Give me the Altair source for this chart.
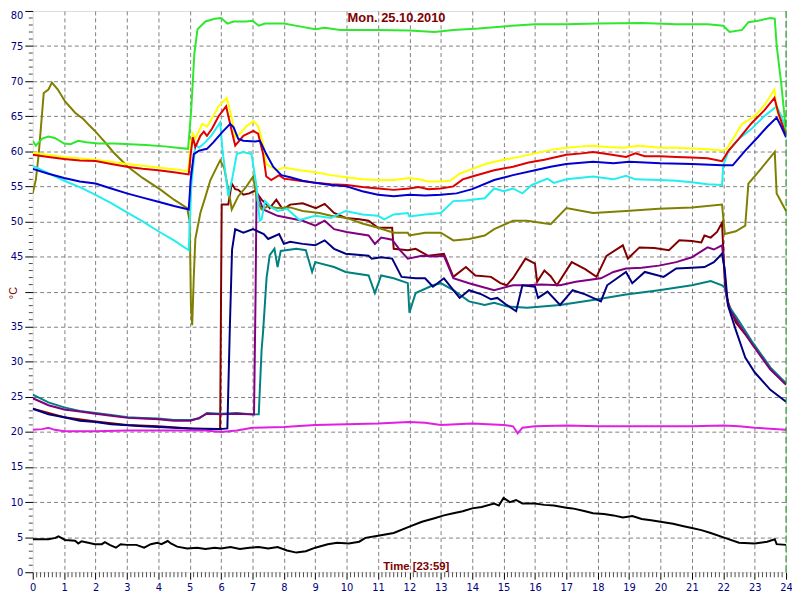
import altair as alt
import pandas as pd

W, H = 761, 567

# ---- data: (hour, °C) ----
green = [(0,61.5),(0.1,60.8),(0.3,61.8),(0.5,62.1),(0.7,61.9),(1.0,61.1),(1.2,61.0),(1.45,61.5),(1.7,61.3),
         (2.1,61.1),(2.6,61.1),(3.1,61.0),(3.6,60.9),(4.2,60.7),(4.6,60.5),(4.95,60.35),(5.05,66),(5.15,74),
         (5.25,77.4),(5.5,78.5),(5.8,78.9),(6.0,79.0),(6.2,78.2),(6.4,78.5),(6.8,78.5),(7.0,78.6),(7.2,77.9),
         (7.4,78.2),(8.0,78.2),(8.5,77.8),(9.0,77.4),(9.3,77.6),(9.8,77.3),(11.0,77.3),(12.0,77.2),(12.8,77.0),
         (13.4,77.3),(14.2,77.5),(15.0,77.8),(16.0,78.1),(17.0,78.1),(18.0,78.2),(19.4,78.3),(20.5,78.1),
         (21.5,78.1),(22.0,77.9),(22.2,77.0),(22.6,77.3),(22.8,78.4),(23.1,78.6),(23.5,79.0),(23.64,78.9),
         (23.7,75.1),(23.85,69.5),(24.0,62.8)]

yellow = [(0,59.8),(1,59.2),(2,58.8),(3,58.2),(4,57.7),(4.95,57.2),(5.05,61.5),(5.1,62.5),(5.18,61.8),
          (5.4,63.9),(5.55,63.5),(5.66,64.3),(5.92,66.4),(6.18,67.6),(6.34,64.8),(6.45,62.0),(6.6,62.5),
          (6.81,63.6),(7.03,64.3),(7.18,63.6),(7.34,61.0),(7.44,58.2),(7.76,57.3),(8.0,57.7),(8.5,57.3),
          (9.0,57.0),(9.5,56.6),(10.0,56.3),(10.5,56.0),(11.0,55.9),(11.5,55.9),(12.0,56.2),(12.3,56.0),
          (12.6,55.7),(13.0,55.7),(13.3,55.8),(13.6,56.8),(14.0,57.5),(14.5,58.3),(15.0,58.8),(15.5,59.2),
          (16.0,59.7),(16.5,60.2),(17.0,60.5),(17.5,60.7),(17.85,60.8),(18.3,60.6),(18.8,60.5),(19.3,60.8),
          (20.0,60.5),(20.5,60.5),(21.0,60.4),(21.5,60.3),(21.96,60.1),(22.1,60.3),(22.6,63.9),(23.0,65.0),
          (23.3,66.5),(23.63,68.8),(23.7,66.0),(23.85,64.0),(24.0,62.5)]

red = [(0,59.5),(0.5,59.2),(1,58.9),(1.5,58.7),(2,58.6),(2.5,58.2),(3,57.8),(3.5,57.5),(4,57.3),(4.5,57.0),
       (4.97,56.7),(5.03,59.5),(5.1,62.0),(5.18,60.6),(5.34,62.2),(5.45,62.8),(5.55,62.2),(5.71,63.2),
       (5.92,65.0),(6.16,66.4),(6.34,62.9),(6.45,60.8),(6.71,62.2),(7.03,62.9),(7.18,62.5),(7.34,59.6),
       (7.44,56.4),(7.6,55.9),(7.85,56.6),(8.0,56.1),(8.5,55.8),(9.0,55.5),(9.5,55.3),(10.0,55.2),(10.5,54.9),
       (11.0,54.7),(11.5,54.5),(12.0,54.7),(12.3,54.9),(12.6,54.6),(13.0,54.7),(13.4,55.0),(13.7,56.0),
       (14.0,56.4),(14.7,57.3),(15.3,57.8),(15.8,58.4),(16.3,58.8),(17.0,59.5),(17.5,59.7),(17.85,59.9),
       (18.3,59.6),(18.9,59.2),(19.2,59.7),(19.5,59.3),(20.0,59.3),(20.5,59.2),(21.0,59.1),(21.5,59.0),
       (21.96,58.6),(22.17,60.1),(22.5,61.8),(22.9,64.0),(23.3,65.8),(23.63,67.6),(23.75,65.5),(24.0,62.3)]

blue = [(0,57.5),(0.5,56.8),(1.0,56.2),(1.5,55.7),(2.0,55.4),(2.5,54.7),(3.0,54.0),(3.5,53.4),(4.0,52.8),
        (4.5,52.2),(4.97,51.7),(5.03,55.9),(5.13,59.6),(5.3,60.1),(5.55,60.35),(5.76,61.3),(6.03,62.7),
        (6.29,63.9),(6.4,63.4),(6.55,61.75),(6.71,61.5),(7.08,61.4),(7.24,61.5),(7.44,59.6),(7.66,57.8),
        (7.92,56.6),(8.2,56.3),(8.6,55.8),(9.0,55.5),(9.5,55.2),(10.0,55.0),(10.5,54.3),(11.0,53.8),
        (11.5,53.6),(12.0,53.8),(12.5,53.7),(13.0,53.8),(13.5,54.0),(14.0,54.6),(14.7,55.9),(15.3,56.6),
        (16.0,57.3),(16.5,57.8),(17.0,58.2),(17.85,58.5),(18.5,58.3),(19.0,58.5),(20.0,58.3),(21.0,58.2),
        (21.96,58.0),(22.3,58.0),(22.7,60.1),(23.1,62.0),(23.4,63.5),(23.7,64.8),(23.85,63.5),(24.0,62.0)]

cyan = [(0,57.9),(0.5,56.9),(1.0,55.8),(1.5,54.9),(2.0,53.8),(2.5,52.6),(3.0,51.3),(3.5,50.0),(4.0,48.6),
        (4.5,47.3),(4.97,45.9),(5.05,55.0),(5.18,61.0),(5.3,60.5),(5.5,61.3),(5.7,62.3),(5.97,64.1),
        (6.05,60.0),(6.23,53.6),(6.35,56.0),(6.5,59.6),(6.7,59.9),(6.97,59.6),(7.13,55.0),(7.23,50.1),
        (7.29,50.3),(7.4,52.9),(7.6,52.0),(7.8,51.5),(8.1,51.8),(8.5,50.2),(9.0,50.8),(9.5,50.5),(9.97,51.5),
        (10.5,51.0),(11.0,50.8),(11.2,50.3),(11.5,51.0),(11.95,51.2),(12.0,50.7),(12.5,51.0),(13.0,51.2),
        (13.4,52.9),(13.8,53.0),(14.4,53.3),(14.7,54.7),(15.0,54.3),(15.3,54.7),(15.6,54.0),(15.9,55.2),
        (16.4,56.1),(16.6,55.5),(17.0,56.0),(17.85,56.4),(18.5,56.0),(18.9,56.5),(19.2,56.0),(19.95,55.9),
        (20.5,55.8),(21.0,55.6),(21.5,55.3),(21.96,55.2),(22.0,58.0),(22.17,60.1),(22.5,61.8),(22.9,63.2),
        (23.3,65.0),(23.7,66.4),(23.85,65.0),(24.0,63.2)]

olive = [(0,54.0),(0.1,56.0),(0.19,59.6),(0.35,68.3),(0.5,68.8),(0.61,69.8),(0.8,68.8),(1.03,67.1),
         (1.35,65.5),(1.61,64.6),(1.8,63.7),(1.98,62.9),(2.3,61.3),(2.56,59.9),(3.03,57.8),(3.5,56.2),
         (4.08,54.5),(4.5,53.1),(4.92,51.9),(5.0,50.0),(5.04,38.0),(5.08,35.2),(5.13,42.0),(5.18,47.5),
         (5.34,51.2),(5.5,53.5),(5.66,55.9),(5.97,58.7),(6.1,57.6),(6.29,53.1),(6.34,51.7),(6.55,53.6),
         (6.81,55.0),(7.02,56.4),(7.15,53.0),(7.29,51.7),(7.5,52.2),(7.8,51.9),(8.2,52.0),(8.6,51.5),
         (9.13,51.2),(9.5,50.8),(10.0,50.5),(10.5,49.7),(11.0,49.1),(11.5,48.4),(11.95,48.4),(12.0,48.0),
         (12.5,48.4),(13.0,48.4),(13.4,47.3),(13.9,47.5),(14.4,48.0),(14.7,48.9),(15.3,50.1),(15.75,50.1),
         (16.5,49.6),(17.0,51.9),(17.85,51.2),(18.9,51.5),(19.95,51.8),(21.0,52.0),(21.96,52.4),(22.05,48.2),
         (22.4,48.6),(22.7,49.4),(22.8,55.4),(23.2,57.5),(23.64,59.9),(23.7,54.0),(24.0,51.5)]

maroon = [(0,23.3),(1,22.1),(2,21.5),(3,21.0),(4,20.8),(5,20.5),(5.97,20.4),(6.0,40.0),(6.02,52.4),
          (6.23,52.4),(6.34,55.4),(6.45,54.6),(6.55,54.5),(6.71,53.8),(6.9,54.0),(7.08,54.4),(7.29,53.1),
          (7.44,52.5),(7.55,51.9),(7.76,53.1),(7.97,51.7),(8.2,52.4),(8.6,52.6),(9.02,51.9),(9.3,52.5),
          (9.6,51.2),(9.97,50.5),(10.4,50.3),(10.7,50.1),(11.0,49.1),(11.45,49.1),(11.5,46.1),(11.95,45.9),
          (12.2,46.1),(12.6,45.1),(13.1,45.4),(13.4,42.1),(13.8,43.5),(14.1,42.3),(14.6,42.1),(14.9,41.2),
          (15.1,40.9),(15.3,41.9),(15.7,44.7),(16.0,44.0),(16.07,41.4),(16.3,43.0),(16.5,42.2),(16.7,40.9),
          (17.17,44.2),(17.6,43.2),(17.96,42.1),(18.28,45.1),(18.8,46.6),(18.96,44.7),(19.33,46.3),
          (19.8,46.2),(20.27,45.9),(20.6,47.3),(21.0,47.2),(21.3,47.0),(21.4,48.0),(21.6,47.7),(21.8,48.5),
          (21.96,49.8),(22.0,46.0),(22.06,40.5),(22.15,38.5),(22.4,35.6),(22.9,32.8),(23.5,29.0),(24.0,26.9)]

purple = [(0,24.8),(0.5,23.8),(1.0,23.2),(1.5,22.9),(2.0,22.6),(2.5,22.3),(3.03,22.0),(3.5,21.9),(4.0,21.8),
          (4.5,21.6),(5.03,21.6),(5.3,22.0),(5.55,22.6),(6.0,22.5),(6.5,22.6),(7.05,22.5),(7.1,40.0),
          (7.13,54.3),(7.34,51.7),(7.8,50.8),(8.6,50.1),(9.0,49.4),(9.3,50.1),(9.6,48.9),(10.0,48.5),
          (10.7,48.0),(10.9,46.8),(11.1,47.7),(11.45,47.4),(11.7,45.9),(11.95,44.7),(12.4,45.1),(12.8,45.0),
          (13.1,45.1),(13.4,41.9),(13.9,41.2),(14.3,40.7),(14.7,40.2),(15.3,40.9),(15.75,40.9),(16.2,41.0),
          (16.8,40.9),(17.3,41.4),(18.1,41.9),(18.5,42.8),(18.9,43.3),(19.4,43.4),(19.95,43.7),(20.5,44.2),
          (21.0,44.9),(21.5,46.3),(21.7,46.0),(21.96,46.6),(22.02,44.0),(22.1,39.5),(22.2,37.5),(22.5,35.3),
          (22.9,32.6),(23.5,28.9),(24.0,26.7)]

teal = [(0,25.3),(0.5,24.2),(1.0,23.5),(1.5,23.0),(2.0,22.7),(2.5,22.4),(3.03,22.1),(3.5,22.0),(4.0,21.9),
        (4.5,21.7),(5.03,21.7),(5.3,21.9),(5.55,22.7),(6.0,22.6),(6.5,22.7),(7.0,22.5),(7.2,22.5),(7.29,31.6),
        (7.34,34.4),(7.45,42.0),(7.55,45.2),(7.7,46.1),(7.8,43.5),(7.9,45.8),(8.4,46.1),(8.7,45.9),(8.9,42.8),
        (9.0,44.2),(9.6,43.5),(9.97,42.8),(10.7,42.3),(10.9,39.8),(11.1,42.3),(11.5,41.9),(11.95,41.2),
        (12.0,37.0),(12.2,39.8),(12.75,40.9),(13.0,41.2),(13.4,40.2),(13.9,38.6),(14.4,38.1),(14.7,38.4),
        (15.1,37.9),(15.75,37.7),(16.8,38.1),(17.85,38.8),(18.9,39.6),(19.95,40.2),(21.0,40.9),(21.6,41.5),
        (21.96,40.9),(22.06,40.5),(22.15,38.1),(22.5,35.8),(22.9,33.0),(23.5,29.2),(24.0,26.9)]

navy = [(0,23.3),(0.5,22.5),(1.0,22.1),(1.5,21.6),(2.0,21.4),(2.5,21.1),(3.03,20.96),(3.5,20.8),(4.0,20.7),
        (4.5,20.6),(5.03,20.5),(5.5,20.4),(5.97,20.4),(6.2,20.5),(6.28,35.0),(6.35,46.0),(6.45,48.9),
        (6.71,48.4),(7.02,48.9),(7.36,48.2),(7.5,47.5),(7.85,48.2),(8.0,46.8),(8.2,47.1),(8.6,46.8),(9.0,46.6),
        (9.3,47.3),(9.6,46.1),(9.97,45.4),(10.7,45.1),(10.8,44.7),(11.1,44.9),(11.45,44.7),(11.75,42.1),
        (12.2,41.9),(12.5,41.9),(12.75,40.7),(13.1,41.9),(13.6,39.1),(13.9,40.2),(14.3,39.6),(14.6,38.9),
        (14.8,39.1),(15.1,38.1),(15.4,37.2),(15.6,40.9),(16.0,40.7),(16.1,39.1),(16.4,40.0),(16.8,38.1),
        (17.2,40.2),(17.6,39.6),(18.1,38.6),(18.3,40.9),(18.9,42.8),(19.1,41.2),(19.5,42.8),(20.1,42.1),
        (20.5,43.3),(21.0,43.4),(21.4,43.5),(21.7,44.2),(21.96,45.4),(22.05,43.0),(22.15,38.0),(22.4,34.5),
        (22.7,30.6),(23.0,28.5),(23.5,26.0),(24.0,24.3)]

magenta = [(0,20.3),(0.3,20.4),(0.5,20.6),(0.7,20.3),(1.0,20.1),(2.0,20.1),(3.0,20.2),(4.0,20.2),(5.0,20.2),
           (5.5,20.2),(6.0,20.0),(6.5,20.2),(7.0,20.6),(8.0,20.7),(9.0,21.0),(10.0,21.1),(11.0,21.2),
           (12.0,21.4),(12.5,21.3),(13.0,21.0),(14.0,21.2),(15.0,21.0),(15.3,20.8),(15.45,19.8),(15.6,20.6),
           (16.0,20.8),(17.0,20.9),(18.0,20.8),(19.0,20.8),(20.0,20.8),(21.0,20.8),(22.0,20.9),(22.5,20.8),
           (23.0,20.6),(24.0,20.3)]

black = [(0,4.7),(0.5,4.7),(0.72,4.9),(0.82,5.1),(1.03,4.6),(1.35,4.5),(1.45,4.1),(1.55,4.4),(1.77,4.2),
         (1.98,4.0),(2.2,4.0),(2.3,4.3),(2.45,3.9),(2.65,3.5),(2.8,4.0),(3.0,3.9),(3.3,3.9),(3.55,3.5),
         (3.76,4.0),(3.97,4.2),(4.1,4.0),(4.3,4.45),(4.4,4.1),(4.6,3.65),(4.92,3.4),(5.24,3.5),(5.5,3.3),
         (5.8,3.5),(6.0,3.4),(6.3,3.6),(6.6,3.3),(6.9,3.5),(7.2,3.6),(7.5,3.4),(7.8,3.6),(8.1,3.1),(8.4,2.8),
         (8.7,3.0),(9.0,3.5),(9.4,4.0),(9.7,4.2),(10.07,4.1),(10.4,4.35),(10.6,4.9),(11.0,5.2),(11.5,5.6),
         (12.0,6.5),(12.4,7.2),(12.8,7.7),(13.1,8.1),(13.4,8.4),(13.7,8.7),(14.0,9.1),(14.3,9.3),(14.7,9.8),
         (14.85,9.5),(15.0,10.6),(15.2,10.0),(15.4,10.3),(15.6,9.8),(16.0,9.8),(16.3,9.6),(16.6,9.5),
         (17.0,9.2),(17.2,9.1),(17.6,8.7),(17.85,8.4),(18.2,8.3),(18.5,8.1),(18.8,7.8),(19.1,8.0),(19.4,7.6),
         (19.7,7.4),(20.0,7.2),(20.4,6.9),(20.7,6.6),(21.0,6.3),(21.3,6.0),(21.6,5.6),(22.05,4.9),(22.5,4.2),
         (23.0,4.1),(23.4,4.35),(23.64,4.7),(23.7,4.0),(24.0,3.9)]

# drawing order (bottom -> top) and colours
series = [
    ("maroon", "#800000", maroon),
    ("teal", "#008080", teal),
    ("purple", "#800080", purple),
    ("navy", "#000080", navy),
    ("magenta", "#e020e0", magenta),
    ("black", "#000000", black),
    ("olive", "#808000", olive),
    ("cyan", "#22eeee", cyan),
    ("yellow", "#ffff00", yellow),
    ("red", "#e00000", red),
    ("blue", "#0000d0", blue),
    ("green", "#2ee82e", green),
]

x_ticks = list(range(0, 25))
y_ticks = list(range(0, 81, 5))
x_minor = [h + k / 8 for h in range(24) for k in range(1, 8)]
y_minor = [v for v in range(0, 81) if v % 5]
now_marker = [24]

FONT = "DejaVu Sans"
xs = alt.Scale(domain=[0, 24], nice=False, zero=False)
ys = alt.Scale(domain=[0, 80], nice=False, zero=False)

x_axis = alt.Axis(values=x_ticks, format="d", domain=False, tickSize=7, tickColor="#000000",
                  labelColor="#000080", labelFont=FONT, labelFontSize=10, labelPadding=3,
                  labelFlush=False, labelOverlap=False,
                  grid=True, gridColor="#808080", gridDash=[4, 3], gridWidth=1,
                  gridOpacity={"condition": {"test": "datum.value == 0 || datum.value == 24", "value": 0}, "value": 1},
                  title="Time [23:59]", titleColor="#800000", titleFont="Liberation Sans", titleFontSize=11.5,
                  titleFontWeight="bold", titleX=387, titleY=-6, titleBaseline="middle",
                  titleAlign="center")
# the unit label takes the place of the "40" tick label, as in the reference
y_axis = alt.Axis(values=y_ticks, format="d", domain=False, tickSize=8, tickColor="#000000",
                  labelColor="#000080", labelFont=FONT, labelFontSize=10, labelPadding=2,
                  labelFlush=False, labelOverlap=False,
                  labelExpr="datum.value == 40 ? '' : datum.label",
                  labelBaseline={"condition": {"test": "datum.value == 80", "value": "top"}, "value": "middle"},
                  grid=True, gridColor="#808080", gridDash=[4, 3], gridWidth=1,
                  gridOpacity={"condition": {"test": "datum.value == 0 || datum.value == 80", "value": 0}, "value": 1},
                  title="°C", titleColor="#800000", titleFont="Liberation Sans", titleFontSize=11,
                  titleFontWeight="normal", titleX=-19, titleY=H / 2 + 1, titleAngle=-90, titleBaseline="middle",
                  titleAlign="center")

X = alt.X("t:Q", scale=xs, axis=x_axis, title="Time [23:59]")
Y = alt.Y("v:Q", scale=ys, axis=y_axis, title="°C")

layers = []
for name, color, pts in series:
    df = pd.DataFrame(pts, columns=["t", "v"])
    layers.append(
        alt.Chart(df).mark_line(color=color, strokeWidth=2, clip=True).encode(x=X, y=Y)
    )

minor_y = alt.Chart(pd.DataFrame({"v": y_minor})).mark_tick(
    orient="horizontal", color="#000000", size=4, thickness=1
).encode(y=Y, x=alt.value(-2))

minor_x = alt.Chart(pd.DataFrame({"t": x_minor})).mark_tick(
    orient="vertical", color="#000000", size=5, thickness=1
).encode(x=X, y=alt.value(H + 2.5))

marker = alt.Chart(pd.DataFrame({"t": now_marker})).mark_rule(
    color="#008000", strokeDash=[7, 3], strokeWidth=1
).encode(x=X)

chart = alt.layer(*layers, marker, minor_y, minor_x).properties(
    width=W, height=H,
    title=alt.TitleParams("Mon. 25.10.2010", color="#800000", font="Liberation Sans", fontSize=13,
                          fontWeight="bold", anchor="middle", offset=-15, dx=-13, frame="group"),
    autosize=alt.AutoSizeParams(type="none"),
    padding={"left": 25, "top": 0, "right": 6, "bottom": 20},
).configure_view(stroke=None).configure(background="#ffffff")

chart.save("out.html", embed_options={"renderer": "svg", "actions": False})
